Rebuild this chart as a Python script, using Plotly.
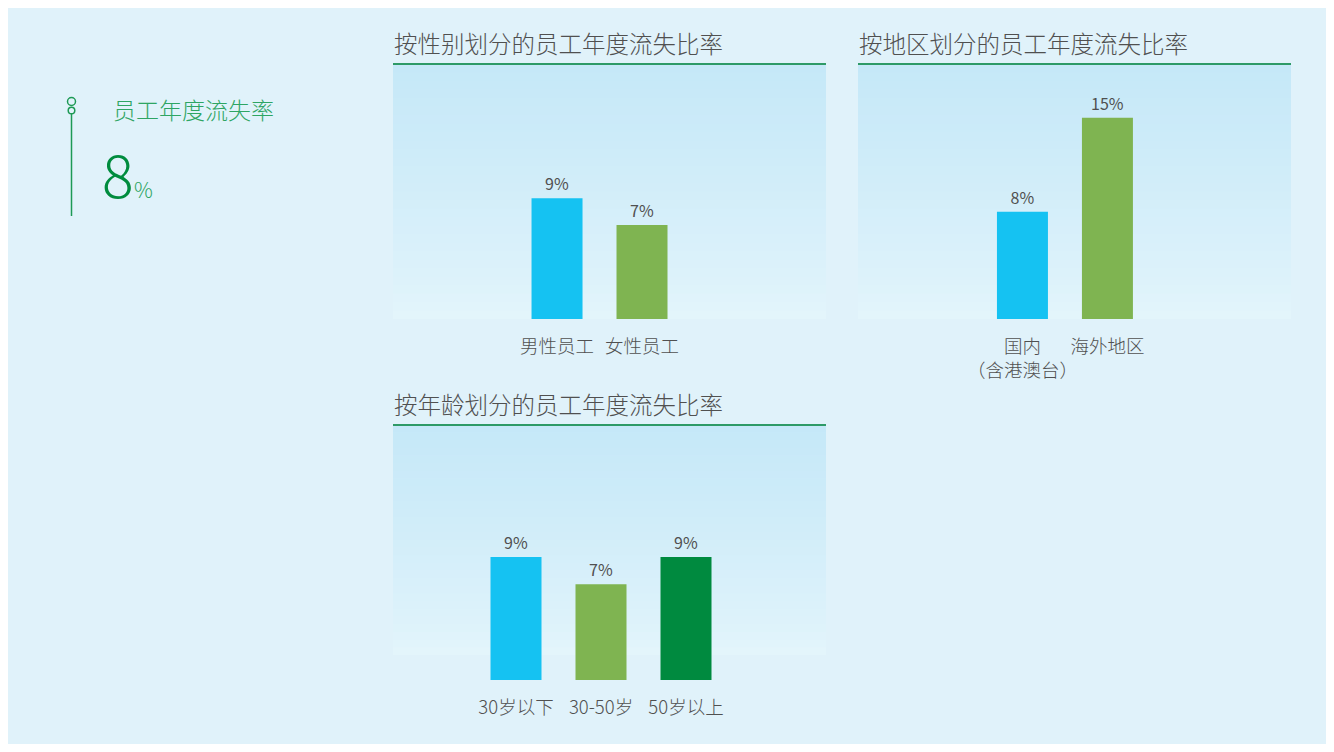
import plotly.graph_objects as go

# ---------------- data ----------------
overall_label = "员工年度流失率"
overall_rate = 8

gender_title = "按性别划分的员工年度流失比率"
gender_cats = ["男性员工", "女性员工"]
gender_vals = [9, 7]

region_title = "按地区划分的员工年度流失比率"
region_cats = ["国内<br>（含港澳台）", "海外地区"]
region_vals = [8, 15]

age_title = "按年龄划分的员工年度流失比率"
age_cats = ["30岁以下", "30-50岁", "50岁以上"]
age_vals = [9, 7, 9]

bar_colors = ["#15C2F2", "#7FB451", "#008A3F"]

# ---------------- geometry helpers ----------------
OFF = 8            # browser body margin
W, H = 1334 - 2 * OFF, 752 - 2 * OFF
FONT = "Noto Sans CJK SC"
GRAY = "#505050"
WT = 300


def px(x):
    return (x - OFF) / W


def py(y):
    return 1 - (y - OFF) / H


fig = go.Figure()

panels = [
    # (xaxis id, yaxis id, cats, vals, title, left, right, top, bottom, yrange, xrange, grad_bottom_frac)
    ("x", "y", gender_cats, gender_vals, gender_title, 393, 826, 64, 319, 19.0, [-1.93, 3.165], 0.0),
    ("x2", "y2", region_cats, region_vals, region_title, 858, 1291, 64, 319, 19.0, [-1.935, 3.16], 0.0),
    ("x3", "y3", age_cats, age_vals, age_title, 393, 826, 425, 680, 18.65, [-1.447, 3.647], 0.098),
]

shapes = []
annotations = []

top_c = (197, 232, 248)
bot_c = (228, 245, 251)
NB = 30

for i, (xa, ya, cats, vals, title, l, r, t, b, ymax, xr, gb) in enumerate(panels):
    fig.add_trace(go.Bar(
        x=cats, y=vals, xaxis=xa, yaxis=ya,
        marker=dict(color=bar_colors[:len(cats)], line=dict(width=0)),
        width=0.6,
        text=[f"{v}%" for v in vals],
        textposition="outside",
        textfont=dict(family=FONT, size=16, color=GRAY, weight=400),
        cliponaxis=False,
        showlegend=False,
        hoverinfo="skip",
    ))
    sfx = "" if i == 0 else str(i + 1)
    fig.update_layout(**{
        "xaxis" + sfx: dict(
            domain=[px(l), px(r)], anchor=ya, type="category", range=xr,
            showgrid=False, zeroline=False, showline=False, ticks="",
            tickangle=0,
            tickfont=dict(family=FONT, size=18.5, color=GRAY, weight=WT),
            ticklabelstandoff=14, fixedrange=True,
        ),
        "yaxis" + sfx: dict(
            domain=[py(b), py(t)], anchor=xa, range=[0, ymax],
            visible=False, fixedrange=True,
        ),
    })
    # gradient background of the panel
    xdom = xa + " domain"
    ydom = ya + " domain"
    for k in range(NB):
        f0 = gb + (1 - gb) * k / NB
        f1 = gb + (1 - gb) * (k + 1) / NB
        s = (k + 0.5) / NB  # 0 bottom -> 1 top
        c = tuple(int(round(bot_c[j] + (top_c[j] - bot_c[j]) * s ** 0.8)) for j in range(3))
        shapes.append(dict(type="rect", xref=xdom, yref=ydom, x0=0, x1=1, y0=f0, y1=f1 + 0.002,
                           fillcolor="rgb(%d,%d,%d)" % c, line=dict(width=0), layer="below"))
    # green title rule
    shapes.append(dict(type="line", xref=xdom, yref=ydom, x0=0, x1=1, y0=1, y1=1,
                       line=dict(color="#2E9A67", width=2), layer="above"))
    # title
    annotations.append(dict(text=title, xref="paper", yref="paper", x=px(l - 1), y=py(t - 21),
                            xanchor="left", yanchor="middle", showarrow=False,
                            font=dict(family=FONT, size=23.5, color=GRAY, weight=WT)))

# left KPI block
shapes.append(dict(type="line", xref="paper", yref="paper", x0=px(71.5), x1=px(71.5),
                   y0=py(114), y1=py(216), line=dict(color="#1E9A55", width=1.5)))
for cy, rr in [(101.5, 4), (110.5, 3.3)]:
    shapes.append(dict(type="circle", xref="paper", yref="paper",
                       x0=px(71.5 - rr), x1=px(71.5 + rr), y0=py(cy + rr), y1=py(cy - rr),
                       line=dict(color="#1E9A55", width=1.5), fillcolor="rgba(0,0,0,0)"))

annotations.append(dict(text=overall_label, xref="paper", yref="paper", x=px(111), y=py(109),
                        xanchor="left", yanchor="middle", showarrow=False,
                        font=dict(family=FONT, size=23, color="#2EA563", weight=WT)))
annotations.append(dict(text=str(overall_rate), xref="paper", yref="paper", x=px(100), y=py(217),
                        xanchor="left", yanchor="bottom", showarrow=False,
                        font=dict(family=FONT, size=59, color="#008C3E", weight=WT)))
annotations.append(dict(text="%", xref="paper", yref="paper", x=px(132), y=py(206),
                        xanchor="left", yanchor="bottom", showarrow=False,
                        font=dict(family=FONT, size=21, color="#2EA563", weight=WT)))

fig.update_layout(
    width=W, height=H,
    margin=dict(l=0, r=0, t=0, b=0, pad=0),
    paper_bgcolor="#E0F2FA",
    plot_bgcolor="rgba(0,0,0,0)",
    shapes=shapes,
    annotations=annotations,
    bargap=0.4,
)

fig.write_html("out.html")
